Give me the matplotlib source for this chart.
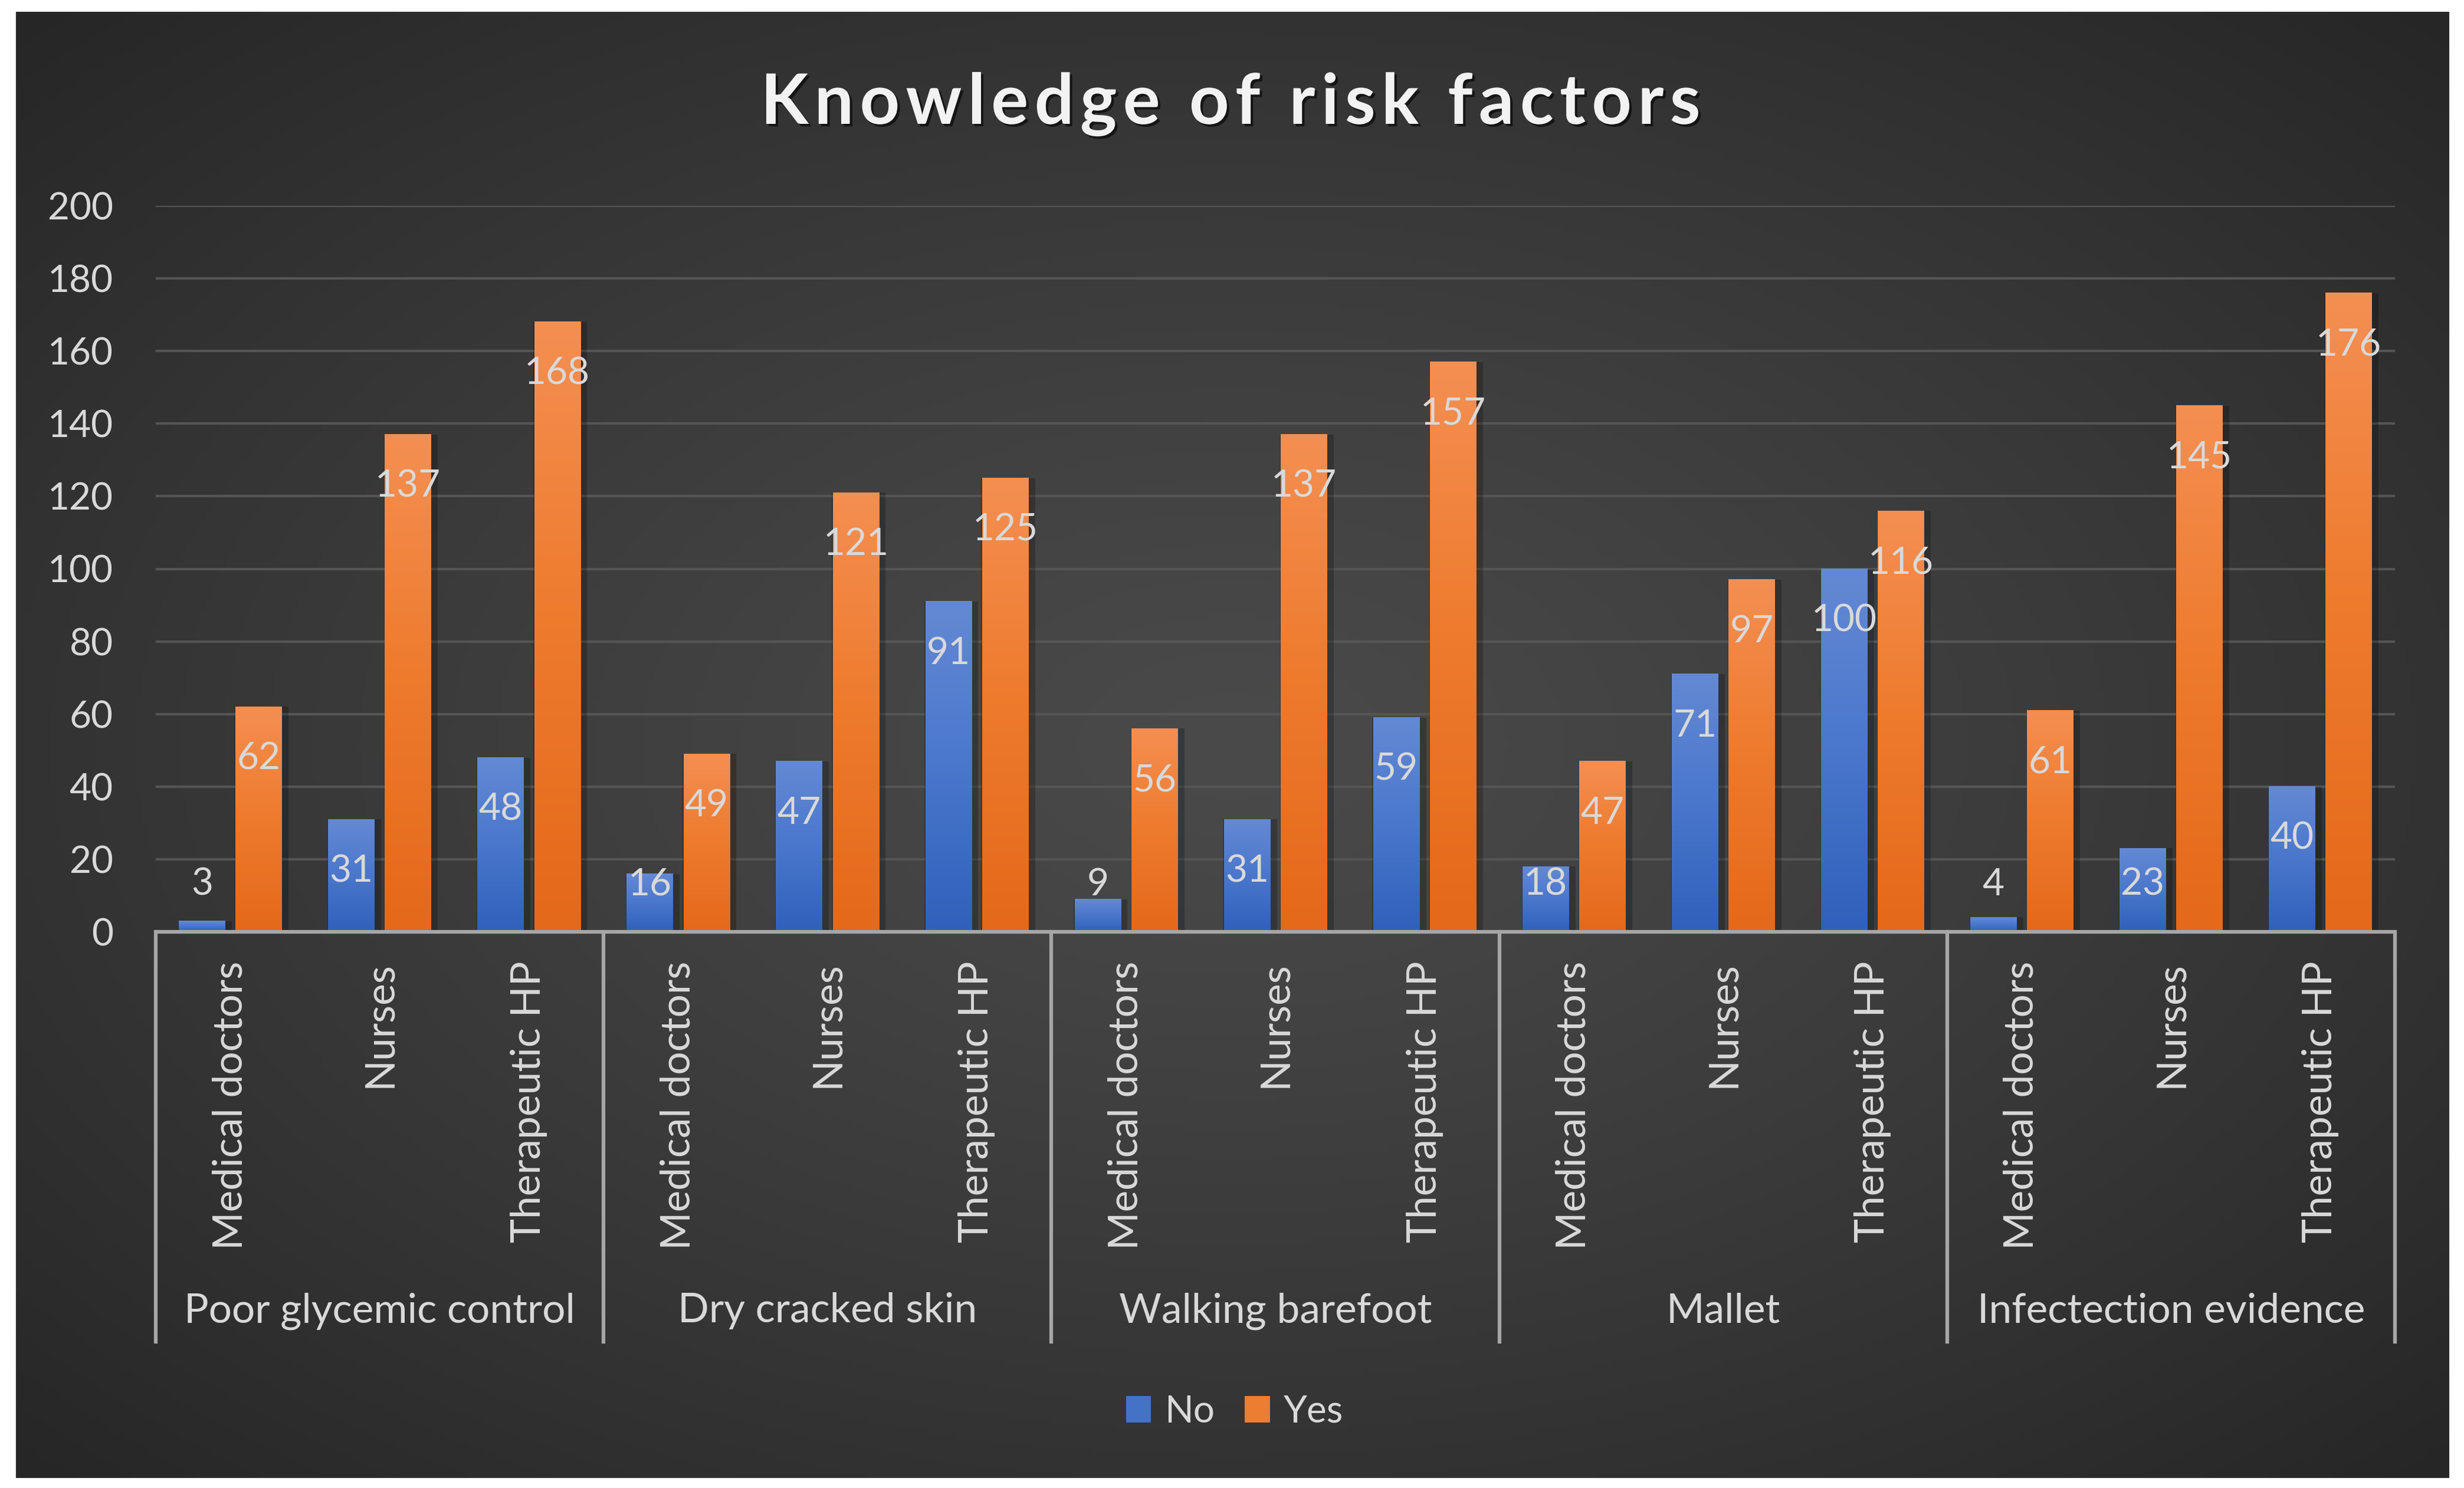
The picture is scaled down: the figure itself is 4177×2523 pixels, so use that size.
import numpy as np
import matplotlib
matplotlib.use("Agg")
import matplotlib.pyplot as plt
import matplotlib.patheffects as pe
from matplotlib.colors import LinearSegmentedColormap
from matplotlib.transforms import blended_transform_factory

plt.rcParams['font.family'] = ['Lato', 'DejaVu Sans']

title = "Knowledge of risk factors"
groups = ["Poor glycemic control", "Dry cracked skin", "Walking barefoot",
          "Mallet", "Infectection evidence"]
professions = ["Medical doctors", "Nurses", "Therapeutic HP"]
no_vals = [3, 31, 48, 16, 47, 91, 9, 31, 59, 18, 71, 100, 4, 23, 40]
yes_vals = [62, 137, 168, 49, 121, 125, 56, 137, 157, 47, 97, 116, 61, 145, 176]
yticks = [0, 20, 40, 60, 80, 100, 120, 140, 160, 180, 200]

W, H = 4177, 2523
fig = plt.figure(figsize=(W / 100, H / 100), dpi=100, facecolor='white')

# dark panel with a soft radial gradient
bg = fig.add_axes([27 / W, (H - 2506) / H, (4152 - 27) / W, (2506 - 20) / H], zorder=-10)
yy, xx = np.mgrid[0:1:300j, 0:1:500j]
d = np.sqrt(((xx - 0.5) / 0.5) ** 2 + ((yy - 0.5) / 0.5) ** 2) / np.sqrt(2)
shade = (0x4a - (0x4a - 0x26) * np.clip(d, 0, 1) ** 1.2) / 255.0
bg.imshow(np.dstack([shade, shade, shade]), aspect='auto', extent=[0, 1, 0, 1])
bg.set_axis_off()

ax = fig.add_axes([264 / W, (H - 1580) / H, (4060 - 264) / W, 1231 / H])
ax.patch.set_alpha(0)

txt = '#d9d9d9'
fs = 46
fs_words = 50
x = np.arange(len(no_vals))
bw = 0.31
off = 0.19

blue_cmap = LinearSegmentedColormap.from_list('b', ['#2f60bb', '#4a77cc', '#6489d4'])
orange_cmap = LinearSegmentedColormap.from_list('o', ['#e4691a', '#ee7a2c', '#f48f52'])

bars_no = ax.bar(x - off, no_vals, bw, color='#4472c4', label='No', zorder=3)
bars_yes = ax.bar(x + off, yes_vals, bw, color='#ed7d31', label='Yes', zorder=3)

grad = np.linspace(0, 1, 256).reshape(-1, 1)
for bars, cmap in [(bars_no, blue_cmap), (bars_yes, orange_cmap)]:
    for b in bars:
        x0, w, h = b.get_x(), b.get_width(), b.get_height()
        # soft shadow
        ax.bar(x0 + w / 2 + 0.02, h, w + 0.05, color='black', alpha=0.22, zorder=2,
               linewidth=0)
        ax.imshow(grad, cmap=cmap, extent=[x0, x0 + w, 0, h], origin='lower',
                  aspect='auto', zorder=3.5, interpolation='bilinear')

ax.set_xlim(-0.5, len(no_vals) - 0.5)
ax.set_ylim(0, 200)

# data labels
for bars, vals in [(bars_no, no_vals), (bars_yes, yes_vals)]:
    for b, v in zip(bars, vals):
        ax.text(b.get_x() + b.get_width() / 2, max(v - 14.3, 13), str(v),
                ha='center', va='center', fontsize=fs, color=txt, zorder=5)

ax.set_yticks(yticks)
ax.set_yticklabels([str(t) for t in yticks])
ax.tick_params(axis='y', length=0, pad=52, labelsize=fs, labelcolor=txt)
ax.set_xticks([])
ax.grid(axis='y', color='#555555', linewidth=3, zorder=0)
for s in ax.spines.values():
    s.set_visible(False)

# x axis line and group separators
trans = blended_transform_factory(ax.transData, ax.transAxes)
ax.plot([-0.5, len(no_vals) - 0.5], [0, 0], color='#a6a6a6', lw=4.5, zorder=6,
        clip_on=False, solid_capstyle='butt')
for i in range(len(groups) + 1):
    xs = i * 3 - 0.5
    ax.plot([xs, xs], [0, -0.5646], color='#a6a6a6', lw=4.5, transform=trans,
            clip_on=False, zorder=6)

for i in range(len(no_vals)):
    ax.text(i, -0.0406, professions[i % 3], rotation=90, ha='center', va='top',
            fontsize=fs_words, color=txt, transform=trans)
for g, name in enumerate(groups):
    ax.text(g * 3 + 1, -0.5223, name, ha='center', va='center', fontsize=fs_words,
            color=txt, transform=trans)

# letter-spaced title
renderer = fig.canvas.get_renderer()
tkw = dict(fontsize=85, fontweight='bold')


def text_w(s):
    t = fig.text(0, 0, s, **tkw)
    w = t.get_window_extent(renderer).width
    t.remove()
    return w


target_w = 1593
nat_w = text_w(title)
spacing = (target_w - nat_w) / (len(title) - 1)
left = 2086 - target_w / 2
shadow = [pe.SimplePatchShadow(offset=(3, -3), shadow_rgbFace='black', alpha=0.6),
          pe.Normal()]
for i, ch in enumerate(title):
    if ch == ' ':
        continue
    xpos = left + text_w(title[:i + 1]) - text_w(ch) + i * spacing
    fig.text(xpos / W, 1 - 210 / H, ch, ha='left', va='baseline', color='#f2f2f2',
             path_effects=shadow, **tkw)

leg = fig.legend(handles=[bars_no, bars_yes], labels=['No', 'Yes'], loc='center',
                 bbox_to_anchor=(2093 / W, 1 - 2394 / H), ncol=2, frameon=False,
                 fontsize=fs, handlelength=0.66, handleheight=0.69,
                 handletextpad=0.36, columnspacing=0.8)
for t in leg.get_texts():
    t.set_color(txt)

fig.savefig('out.png', dpi=100, facecolor='white')
